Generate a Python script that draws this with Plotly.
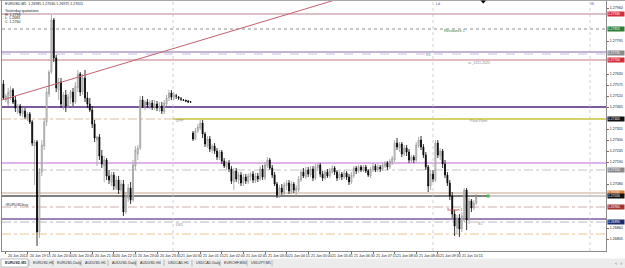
import plotly.graph_objects as go

# ---------------- data (EURUSD, M5) ----------------
opens = [1.27580,1.27500,1.27480,1.27520,1.27550,1.27500,1.27440,1.27470,1.27430,1.27445,
         1.27410,1.27430,1.27390,1.27270,1.27290,1.26840,1.27140,1.27270,1.27390,1.27530,
         1.27640,1.27900,1.27710,1.27550,1.27590,1.27470,1.27525,1.27470,1.27510,1.27540,
         1.27490,1.27560,1.27630,1.27540,1.27610,1.27510,1.27480,1.27450,1.27380,1.27300,
         1.27315,1.27220,1.27170,1.27200,1.27120,1.27090,1.27125,1.27060,1.27100,1.27050,
         1.27080,1.26940,1.27010,1.27060,1.27000,1.27170,1.27230,1.27260,1.27500,1.27470,
         1.27490,1.27470,1.27485,1.27465,1.27480,1.27460,1.27470,1.27440,1.27480,1.27510,
         1.27535,1.27510,1.27520,1.27515,1.27505,1.27500,1.27500,1.27495,1.27490,1.27335,
         1.27305,1.27345,1.27360,1.27385,1.27330,1.27270,1.27305,1.27250,1.27270,1.27245,
         1.27210,1.27240,1.27195,1.27165,1.27185,1.27155,1.27090,1.27145,1.27100,1.27125,
         1.27085,1.27115,1.27090,1.27115,1.27130,1.27095,1.27120,1.27105,1.27155,1.27110,
         1.27170,1.27200,1.27160,1.27125,1.27080,1.27020,1.27060,1.27035,1.27070,1.27085,
         1.27040,1.27080,1.27045,1.27050,1.27100,1.27140,1.27115,1.27150,1.27125,1.27155,
         1.27110,1.27160,1.27175,1.27130,1.27110,1.27140,1.27120,1.27140,1.27160,1.27140,
         1.27110,1.27130,1.27115,1.27135,1.27115,1.27090,1.27120,1.27160,1.27145,1.27165,
         1.27150,1.27165,1.27145,1.27120,1.27150,1.27170,1.27150,1.27165,1.27155,1.27170,
         1.27185,1.27165,1.27190,1.27200,1.27285,1.27260,1.27280,1.27230,1.27260,1.27240,
         1.27195,1.27215,1.27200,1.27270,1.27300,1.27265,1.27225,1.27165,1.27070,1.27130,
         1.27100,1.27285,1.27220,1.27245,1.27180,1.27125,1.27085,1.27020,1.26930,1.26860,
         1.26910,1.26855,1.26910,1.27050,1.26900,1.26995,1.26960,1.26985]
highs = [1.27600,1.27530,1.27560,1.27570,1.27560,1.27520,1.27480,1.27480,1.27460,1.27460,
         1.27440,1.27440,1.27400,1.27300,1.27300,1.27160,1.27300,1.27410,1.27560,1.27650,
         1.27925,1.27910,1.27725,1.27610,1.27610,1.27540,1.27550,1.27530,1.27550,1.27560,
         1.27590,1.27650,1.27640,1.27630,1.27650,1.27540,1.27510,1.27470,1.27400,1.27320,
         1.27330,1.27250,1.27220,1.27210,1.27150,1.27140,1.27140,1.27120,1.27120,1.27100,
         1.27100,1.27040,1.27080,1.27090,1.27200,1.27270,1.27275,1.27520,1.27520,1.27500,
         1.27505,1.27500,1.27500,1.27500,1.27495,1.27490,1.27490,1.27500,1.27525,1.27550,
         1.27550,1.27540,1.27530,1.27520,1.27515,1.27505,1.27500,1.27500,1.27495,1.27345,
         1.27360,1.27380,1.27400,1.27400,1.27340,1.27320,1.27320,1.27280,1.27285,1.27260,
         1.27250,1.27250,1.27210,1.27195,1.27200,1.27170,1.27160,1.27160,1.27140,1.27140,
         1.27130,1.27130,1.27135,1.27140,1.27145,1.27135,1.27135,1.27170,1.27175,1.27190,
         1.27215,1.27210,1.27175,1.27140,1.27090,1.27075,1.27080,1.27090,1.27100,1.27100,
         1.27095,1.27090,1.27075,1.27120,1.27155,1.27160,1.27165,1.27165,1.27170,1.27170,
         1.27180,1.27185,1.27185,1.27145,1.27150,1.27155,1.27160,1.27175,1.27170,1.27150,
         1.27145,1.27140,1.27150,1.27145,1.27130,1.27140,1.27170,1.27170,1.27175,1.27175,
         1.27175,1.27175,1.27155,1.27165,1.27185,1.27180,1.27180,1.27175,1.27185,1.27195,
         1.27195,1.27205,1.27220,1.27300,1.27310,1.27290,1.27290,1.27275,1.27275,1.27255,
         1.27225,1.27225,1.27290,1.27315,1.27320,1.27280,1.27240,1.27175,1.27150,1.27150,
         1.27300,1.27300,1.27260,1.27255,1.27200,1.27140,1.27100,1.27040,1.26950,1.26925,
         1.26930,1.26940,1.27060,1.27060,1.27010,1.27005,1.27000,1.27030]
lows = [1.27500,1.27490,1.27470,1.27500,1.27480,1.27440,1.27430,1.27420,1.27415,1.27405,
        1.27395,1.27380,1.27270,1.27075,1.26770,1.26810,1.27120,1.27250,1.27370,1.27515,
        1.27630,1.27690,1.27540,1.27500,1.27460,1.27450,1.27440,1.27460,1.27480,1.27470,
        1.27480,1.27540,1.27520,1.27525,1.27490,1.27460,1.27440,1.27360,1.27290,1.27170,
        1.27200,1.27160,1.27090,1.27100,1.27080,1.27070,1.27050,1.27050,1.27030,1.27040,
        1.26920,1.26930,1.26990,1.26980,1.26990,1.27150,1.27200,1.27250,1.27460,1.27450,
        1.27460,1.27455,1.27450,1.27450,1.27445,1.27440,1.27430,1.27430,1.27470,1.27495,
        1.27500,1.27500,1.27505,1.27500,1.27495,1.27495,1.27490,1.27485,1.27485,1.27295,
        1.27300,1.27335,1.27350,1.27310,1.27265,1.27260,1.27240,1.27235,1.27230,1.27200,
        1.27200,1.27180,1.27160,1.27150,1.27140,1.27080,1.27050,1.27090,1.27080,1.27070,
        1.27070,1.27080,1.27080,1.27095,1.27085,1.27085,1.27090,1.27095,1.27100,1.27100,
        1.27160,1.27150,1.27110,1.27070,1.27010,1.27010,1.27025,1.27025,1.27050,1.27030,
        1.27030,1.27035,1.27020,1.27040,1.27090,1.27110,1.27105,1.27115,1.27115,1.27095,
        1.27100,1.27145,1.27115,1.27095,1.27100,1.27110,1.27110,1.27130,1.27125,1.27095,
        1.27100,1.27100,1.27105,1.27100,1.27075,1.27080,1.27110,1.27130,1.27135,1.27140,
        1.27140,1.27135,1.27115,1.27110,1.27140,1.27140,1.27140,1.27140,1.27145,1.27160,
        1.27150,1.27155,1.27175,1.27190,1.27250,1.27240,1.27215,1.27220,1.27220,1.27185,
        1.27185,1.27185,1.27190,1.27260,1.27250,1.27210,1.27150,1.27040,1.27050,1.27090,
        1.27090,1.27210,1.27200,1.27160,1.27110,1.27070,1.27000,1.26910,1.26820,1.26830,
        1.26815,1.26840,1.26890,1.26850,1.26880,1.26940,1.26950,1.26975]
closes = [1.27510,1.27520,1.27540,1.27550,1.27490,1.27460,1.27470,1.27435,1.27450,1.27415,
          1.27430,1.27390,1.27285,1.27290,1.26840,1.27140,1.27275,1.27390,1.27540,1.27640,
          1.27900,1.27710,1.27560,1.27590,1.27480,1.27525,1.27470,1.27515,1.27540,1.27490,
          1.27570,1.27630,1.27540,1.27610,1.27510,1.27480,1.27450,1.27380,1.27310,1.27315,
          1.27220,1.27180,1.27200,1.27120,1.27100,1.27125,1.27070,1.27100,1.27050,1.27080,
          1.26940,1.27020,1.27060,1.27000,1.27175,1.27250,1.27260,1.27500,1.27470,1.27490,
          1.27475,1.27485,1.27465,1.27480,1.27460,1.27470,1.27445,1.27485,1.27510,1.27535,
          1.27515,1.27525,1.27520,1.27510,1.27505,1.27500,1.27495,1.27490,1.27490,1.27305,
          1.27345,1.27365,1.27385,1.27330,1.27280,1.27305,1.27255,1.27270,1.27245,1.27215,
          1.27240,1.27195,1.27170,1.27185,1.27155,1.27095,1.27145,1.27105,1.27125,1.27085,
          1.27115,1.27095,1.27120,1.27130,1.27100,1.27120,1.27105,1.27155,1.27115,1.27175,
          1.27200,1.27160,1.27125,1.27080,1.27025,1.27060,1.27040,1.27075,1.27085,1.27045,
          1.27080,1.27050,1.27060,1.27105,1.27140,1.27120,1.27150,1.27130,1.27155,1.27110,
          1.27165,1.27175,1.27130,1.27110,1.27140,1.27120,1.27145,1.27160,1.27140,1.27110,
          1.27130,1.27115,1.27135,1.27115,1.27090,1.27125,1.27160,1.27145,1.27165,1.27150,
          1.27165,1.27145,1.27125,1.27155,1.27170,1.27150,1.27165,1.27155,1.27175,1.27185,
          1.27165,1.27195,1.27210,1.27285,1.27265,1.27280,1.27230,1.27260,1.27240,1.27200,
          1.27215,1.27200,1.27275,1.27300,1.27265,1.27225,1.27165,1.27070,1.27130,1.27105,
          1.27285,1.27225,1.27245,1.27180,1.27125,1.27085,1.27020,1.26930,1.26870,1.26910,
          1.26855,1.26920,1.27050,1.26900,1.26995,1.26960,1.26985,1.27015]
bar_index = list(range(len(opens)))

# price-axis tick labels
price_ticks = [1.27960, 1.27905, 1.27850, 1.27795, 1.27740, 1.27685, 1.27630, 1.27575,
               1.27520, 1.27465, 1.27410, 1.27355, 1.27300, 1.27245, 1.27190, 1.27135,
               1.27080, 1.27025, 1.26970, 1.26915, 1.26860, 1.26805]

# time-axis labels (bar index, text)
time_tick_index = [1, 10, 19, 28, 37, 46, 55, 64, 73, 82, 91, 100, 109, 118, 127, 136,
                   145, 154, 163, 172, 181, 190]
time_tick_text = ["20 Jun 2013", "20 Jun 19:15", "20 Jun 20:00", "20 Jun 20:45",
                  "20 Jun 21:30", "20 Jun 22:15", "20 Jun 23:00", "20 Jun 23:45",
                  "21 Jun 00:30", "21 Jun 01:15", "21 Jun 02:00", "21 Jun 02:45",
                  "21 Jun 03:30", "21 Jun 04:15", "21 Jun 05:00", "21 Jun 05:45",
                  "21 Jun 06:30", "21 Jun 07:15", "21 Jun 08:00", "21 Jun 08:45",
                  "21 Jun 09:30", "21 Jun 10:15"]

# horizontal levels drawn on the chart
level_prices = [1.27930, 1.27855, 1.27740, 1.27730, 1.27700, 1.27465, 1.27405, 1.27185,
                1.27150, 1.27035, 1.27020, 1.26965, 1.26905, 1.26890, 1.26830]
level_colors = ['#b9808f', '#8c8c8c', '#8a6aaa', '#c9bde0', '#c27a86', '#7d5a9e',
                '#c8c23c', '#d79be6', '#b4b4b4', '#c8a58a', '#000000', '#c49a9a',
                '#7d5a9e', '#a8a8a8', '#e2b67a']
level_dash = ['solid', 'dot', 'solid', 'dash', 'solid', 'solid', 'solid', 'solid',
              'dashdot', 'solid', 'solid', 'dashdot', 'solid', 'dashdot', 'dashdot']
level_width = [1, 1, 1.2, 1, 1, 2, 1.4, 1.5, 0.8, 1, 1.2, 0.8, 1.5, 0.8, 0.8]

# level price boxes on the price scale (price, colour)
box_prices = [1.27930, 1.27855, 1.27735, 1.27700, 1.27405, 1.27150, 1.27035, 1.27020,
              1.26965, 1.26890]
box_colors = ['#d42f3c', '#2f7d32', '#8a8a8a', '#d42f3c', '#111111', '#8a8a8a',
              '#d9823a', '#111111', '#a3332f', '#1c2a6e']

# trend line (bar index, price)
trend_x = [-0.58, 138.2]
trend_y = [1.27500, 1.28000]

# vertical time markers (bar index)
vline_index = [70.7, 179.0, 244.4]

# signal point
signal_x = [202]
signal_y = [1.27020]

# ---------------- geometry helpers ----------------
W, H = 625, 268
L, R, T, B = 2, 19, 1, 17
PW, PH = W - L - R, H - T - B


def px(x):
    return (x - L) / PW


def py(y):
    return (H - B - y) / PH


fig = go.Figure()
fig.add_trace(go.Candlestick(
    x=bar_index, open=opens, high=highs, low=lows, close=closes,
    increasing=dict(line=dict(color='#9c9c9c', width=0.8), fillcolor='#dedede'),
    decreasing=dict(line=dict(color='#000000', width=0.8), fillcolor='#000000'),
    whiskerwidth=0, hoverinfo='skip', showlegend=False))

fig.add_trace(go.Scatter(x=signal_x, y=signal_y, mode='markers',
                         marker=dict(color='#3cc83c', size=3, symbol='square'),
                         hoverinfo='skip', showlegend=False))

shapes = []
sep_paper = px(173)
for i, (p, c, d, w) in enumerate(zip(level_prices, level_colors, level_dash, level_width)):
    if i == 6:  # pivot: dash-dot on previous day, yellow on current
        shapes.append(dict(type='line', xref='paper', yref='y', x0=0, x1=sep_paper, y0=p, y1=p,
                           line=dict(color='#cfae8a', width=0.8, dash='dashdot'), layer='below'))
        shapes.append(dict(type='line', xref='paper', yref='y', x0=sep_paper, x1=1, y0=p, y1=p,
                           line=dict(color=c, width=w), layer='below'))
    elif i == 10:  # bid line
        shapes.append(dict(type='line', xref='paper', yref='y', x0=0, x1=px(488), y0=p, y1=p,
                           line=dict(color=c, width=w), layer='below'))
        shapes.append(dict(type='line', xref='paper', yref='y', x0=px(488), x1=1, y0=p, y1=p,
                           line=dict(color='#9a9a9a', width=1), layer='below'))
    else:
        shapes.append(dict(type='line', xref='paper', yref='y', x0=0, x1=1, y0=p, y1=p,
                           line=dict(color=c, width=w, dash=d), layer='below'))

for v in vline_index:
    shapes.append(dict(type='line', xref='x', yref='paper', x0=v, x1=v, y0=0, y1=1,
                       line=dict(color='#c4c4c4', width=0.8, dash='dot'), layer='below'))

shapes.append(dict(type='line', xref='x', yref='y', x0=trend_x[0], x1=trend_x[1],
                   y0=trend_y[0], y1=trend_y[1], line=dict(color='#c4606e', width=1)))

shapes.append(dict(type='rect', xref='paper', yref='paper', x0=px(0), x1=px(W), y0=py(1), y1=py(0),
                   fillcolor='#a8a8a8', line=dict(width=0)))
shapes.append(dict(type='path', xref='paper', yref='paper',
                   path=f"M {px(480.5)} {py(0.5)} L {px(486)} {py(0.5)} L {px(483.2)} {py(3.5)} Z",
                   fillcolor='#000000', line=dict(width=0)))
shapes.append(dict(type='rect', xref='paper', yref='paper', x0=px(0), x1=px(W), y0=py(268), y1=py(258.5),
                   fillcolor='#ececec', line=dict(width=0)))
shapes.append(dict(type='rect', xref='paper', yref='paper', x0=px(1), x1=px(28), y0=py(267), y1=py(259),
                   fillcolor='#ffffff', line=dict(color='#9a9a9a', width=0.6)))

annotations = []
small = dict(family='Liberation Sans, Arial, sans-serif', size=3.6)

title_txt = "EURUSD,M5  {:.5f} {:.5f} {:.5f} {:.5f}".format(opens[-1], highs[-1], lows[-1], closes[-1])
info_lines = [(title_txt, 4), ("Yesterday quotations", 11), ("H: 1.2793", 14.7),
              ("L: 1.2683", 18.3), ("C: 1.2760", 22)]
for txt, yy in info_lines:
    annotations.append(dict(text=txt, xref='paper', yref='paper', x=px(3), y=py(yy),
                            xanchor='left', yanchor='middle', showarrow=False,
                            font=dict(color='#202020', **small)))

level_texts = [("Resistance 1", 442, 31, '#2e7d32'), ("R3", 424, 55.5, '#7a7a7a'),
               ("sc_0111.2025", 466, 62.5, '#8a8a8a'), ("Pivot Point", 468, 120.5, '#8a8a8a'),
               ("DPP", 174, 121, '#8a8a8a'), ("#EURUSDbuy", 3, 204.5, '#303030'),
               ("Support 1", 445, 209.5, '#a3332f'), ("DS1", 174, 224.5, '#8a8a8a'),
               ("S1", 476, 224, '#8a8a8a'), ("Ld", 434, 3.5, '#6a4aa8'), ("f6", 589, 3.5, '#6a4aa8')]
for txt, xx, yy, col in level_texts:
    annotations.append(dict(text=txt, xref='paper', yref='paper', x=px(xx), y=py(yy),
                            xanchor='left', yanchor='middle', showarrow=False,
                            font=dict(color=col, **small)))

for p, c in zip(box_prices, box_colors):
    annotations.append(dict(text="{:.5f}".format(p), xref='paper', yref='y', x=1, y=p,
                            xanchor='left', yanchor='middle', xshift=0.5, showarrow=False,
                            bgcolor=c, width=16, height=4, align='left', borderpad=0,
                            font=dict(color='#ffffff', family='Liberation Sans, Arial, sans-serif', size=3.3)))

for ti, tt in zip(time_tick_index, time_tick_text):
    annotations.append(dict(text=tt, xref='x', yref='paper', x=ti, y=py(255.5),
                            xanchor='left', yanchor='middle', xshift=0.5, showarrow=False,
                            font=dict(color='#202020', **small)))

tabs = [("EURUSD,M5", 3), ("EURUSD,H1", 31), ("EURUSD,Daily", 55), ("AUDUSD,H1", 83),
        ("AUDUSD,Daily", 110), ("AUDUSD,H4", 138), ("USDCAD,H1", 166), ("USDCAD,Daily", 194),
        ("EURCHF,M30", 222), ("USDJPY,M5", 249)]
for k, (txt, xx) in enumerate(tabs):
    annotations.append(dict(text=("<b>%s</b>" % txt) if k == 0 else txt, xref='paper', yref='paper',
                            x=px(xx), y=py(263), xanchor='left', yanchor='middle', showarrow=False,
                            font=dict(color='#303030', **small)))
    if k > 0:
        shapes.append(dict(type='line', xref='paper', yref='paper', x0=px(xx - 2), x1=px(xx - 2),
                           y0=py(266), y1=py(260), line=dict(color='#9a9a9a', width=0.6)))
shapes.append(dict(type='line', xref='paper', yref='paper', x0=px(272), x1=px(272),
                   y0=py(266), y1=py(260), line=dict(color='#9a9a9a', width=0.6)))
annotations.append(dict(text="‹  ›", xref='paper', yref='paper', x=px(613), y=py(263),
                        xanchor='left', yanchor='middle', showarrow=False,
                        font=dict(color='#505050', family='DejaVu Sans', size=5)))

# price-scale labels: hide the ones covered by a level box
shown_ticks = [t for t in price_ticks if min(abs(t - b) for b in box_prices) > 0.00028]

fig.update_layout(
    width=W, height=H, margin=dict(l=L, r=R, t=T, b=B, pad=0),
    paper_bgcolor='#ffffff', plot_bgcolor='#ffffff', showlegend=False,
    boxgap=0.42,
    xaxis=dict(range=[-0.583, 251.08], rangeslider=dict(visible=False), showgrid=False,
               zeroline=False, showticklabels=False, tickvals=time_tick_index, ticks='outside',
               ticklen=2, tickcolor='#707070', showline=True, linecolor='#8a8a8a', linewidth=1,
               mirror=True, fixedrange=True),
    yaxis=dict(side='right', range=[1.26745, 1.27995], showgrid=False, zeroline=False,
               tickvals=shown_ticks, ticktext=["{:.5f}".format(v) for v in shown_ticks],
               ticks='outside', ticklen=2, tickcolor='#707070',
               tickfont=dict(color='#202020', **small), showline=True, linecolor='#8a8a8a',
               linewidth=1, mirror=True, fixedrange=True),
    shapes=shapes, annotations=annotations,
)

fig.write_html("out.html")
